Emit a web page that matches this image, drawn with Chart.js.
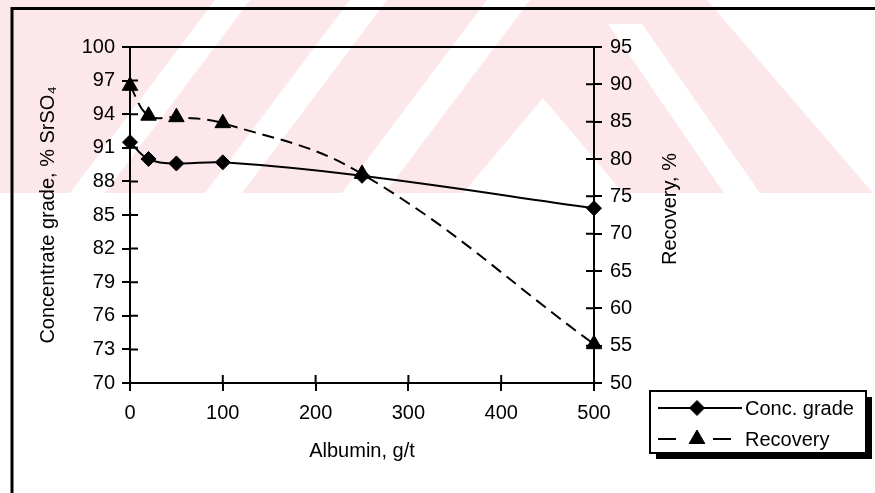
<!DOCTYPE html>
<html>
<head>
<meta charset="utf-8">
<script src="https://cdn.jsdelivr.net/npm/chart.js"></script>
<style>
  html, body { margin: 0; padding: 0; background: #fff; }
  #wrap { width: 875px; height: 493px; position: relative; }
</style>
</head>
<body>
<div id="wrap"><canvas id="albuminChart" width="875" height="493"></canvas></div>
<script>
'use strict';

// albumin dosage, g/t
let albumin = [0, 20, 50, 100, 250, 500];
// concentrate grade, % SrSO4 (left axis)
let concGrade = [91.5, 90.0, 89.6, 89.7, 88.5, 85.6];
// recovery, % (right axis)
let recovery = [89.8, 85.8, 85.6, 84.8, 78.0, 55.2];

let gradeTicks = { min: 70, max: 100, step: 3 };
let recoveryTicks = { min: 50, max: 95, step: 5 };
let albuminTicks = { min: 0, max: 500, step: 100 };

let fontFamily = "'Liberation Sans', Arial, sans-serif";

// pale pink watermark + cropped outer frame
let backdrop = {
  id: 'backdrop',
  beforeDraw(chart) {
    let ctx = chart.ctx;
    function poly(pts) {
      ctx.beginPath();
      ctx.moveTo(pts[0][0], pts[0][1]);
      for (let i = 1; i < pts.length; i++) ctx.lineTo(pts[i][0], pts[i][1]);
      ctx.closePath();
      ctx.fill();
    }
    ctx.save();
    ctx.fillStyle = '#fff';
    ctx.fillRect(0, 0, chart.width, chart.height);
    ctx.fillStyle = '#fce7eb';
    poly([[0, 0], [707, 0], [873, 193], [0, 193]]);
    ctx.fillStyle = '#fff';
    [[215, 250], [350, 387], [487, 530]].forEach(function (s) {
      poly([[s[0], 0], [s[1], 0], [s[1] - 145, 193], [s[0] - 145, 193]]);
    });
    poly([[543, 98], [623, 193], [463, 193]]);
    poly([[608, 24], [642, 24], [760, 193], [724, 193]]);

    ctx.strokeStyle = '#000';
    ctx.lineWidth = 3;
    ctx.beginPath();
    ctx.moveTo(12, 493);
    ctx.lineTo(12, 8.5);
    ctx.lineTo(875, 8.5);
    ctx.stroke();
    ctx.restore();
  }
};

// inner half of the crossing tick marks, top border of the plot
let axisBox = {
  id: 'axisBox',
  beforeDatasetsDraw(chart) {
    let ctx = chart.ctx;
    let area = chart.chartArea;
    let len = 8;
    ctx.save();
    ctx.strokeStyle = '#000';
    ctx.lineWidth = 2;
    ctx.beginPath();
    ctx.moveTo(area.left, area.top);
    ctx.lineTo(area.right, area.top);
    chart.scales.x.ticks.forEach(function (t) {
      let px = chart.scales.x.getPixelForValue(t.value);
      ctx.moveTo(px, area.bottom);
      ctx.lineTo(px, area.bottom - len);
    });
    chart.scales.y.ticks.forEach(function (t) {
      let py = chart.scales.y.getPixelForValue(t.value);
      ctx.moveTo(area.left, py);
      ctx.lineTo(area.left + len, py);
    });
    chart.scales.y1.ticks.forEach(function (t) {
      let py = chart.scales.y1.getPixelForValue(t.value);
      ctx.moveTo(area.right, py);
      ctx.lineTo(area.right - len, py);
    });
    ctx.stroke();
    ctx.restore();
  },
  afterDraw(chart) {
    let ctx = chart.ctx;
    let area = chart.chartArea;
    ctx.save();
    ctx.fillStyle = '#000';
    ctx.font = '20px ' + fontFamily;
    // right axis title reads bottom to top
    ctx.translate(area.right + 76, (area.top + area.bottom) / 2 - 6);
    ctx.rotate(-Math.PI / 2);
    ctx.textAlign = 'center';
    ctx.textBaseline = 'middle';
    ctx.fillText('Recovery, %', 0, 0);
    ctx.restore();
  }
};

// boxed legend with drop shadow, below the right axis
let boxLegend = {
  id: 'boxLegend',
  afterDraw(chart) {
    let ctx = chart.ctx;
    let bx = 650, by = 391, bw = 216, bh = 62;
    ctx.save();
    ctx.fillStyle = '#000';
    ctx.fillRect(bx + 6, by + 6, bw, bh);
    ctx.fillStyle = '#fff';
    ctx.fillRect(bx, by, bw, bh);
    ctx.strokeStyle = '#000';
    ctx.lineWidth = 2;
    ctx.strokeRect(bx, by, bw, bh);

    let rows = chart.data.datasets;
    let rowY = [by + 17, by + 48];
    rows.forEach(function (ds, i) {
      let y = rowY[i];
      ctx.strokeStyle = '#000';
      ctx.lineWidth = 2;
      // legend sample: long dashes either side of the marker
      ctx.setLineDash(ds.borderDash ? [18, 37] : []);
      ctx.beginPath();
      ctx.moveTo(bx + 8, y);
      ctx.lineTo(bx + 92, y);
      ctx.stroke();
      ctx.setLineDash([]);
      ctx.fillStyle = '#000';
      ctx.lineWidth = 1;
      Chart.helpers.drawPoint(ctx, {
        pointStyle: ds.pointStyle,
        radius: ds.pointRadius,
        borderWidth: 1
      }, bx + 47, y);
      ctx.font = '20px ' + fontFamily;
      ctx.textBaseline = 'middle';
      ctx.textAlign = 'left';
      ctx.fillText(ds.label, bx + 95, y + 1);
    });
    ctx.restore();
  }
};

function toPoints(ys) {
  return albumin.map(function (a, i) { return { x: a, y: ys[i] }; });
}

let tickFont = { family: fontFamily, size: 20 };

let config = {
  type: 'line',
  data: {
    datasets: [{
      label: 'Conc. grade',
      data: toPoints(concGrade),
      yAxisID: 'y',
      borderColor: '#000',
      backgroundColor: '#000',
      borderWidth: 2,
      pointStyle: 'rectRot',
      pointRadius: 7.5,
      pointBorderWidth: 1,
      tension: 0.4,
      clip: false
    },
    {
      label: 'Recovery',
      data: toPoints(recovery),
      yAxisID: 'y1',
      borderColor: '#000',
      backgroundColor: '#000',
      borderWidth: 2,
      borderDash: [12, 7],
      pointStyle: 'triangle',
      pointRadius: 9,
      pointBorderWidth: 1,
      tension: 0.4,
      clip: false
    }]
  },
  options: {
    responsive: false,
    animation: false,
    layout: { padding: { top: 47, left: 0, right: 0, bottom: 0 } },
    plugins: {
      legend: { display: false },
      tooltip: { enabled: false }
    },
    scales: {
      x: {
        type: 'linear',
        position: 'bottom',
        min: albuminTicks.min,
        max: albuminTicks.max,
        ticks: { stepSize: albuminTicks.step, color: '#000', font: tickFont, padding: 10, maxRotation: 0 },
        grid: { drawOnChartArea: false, tickLength: 8, color: '#000', lineWidth: 2 },
        border: { display: true, color: '#000', width: 2 },
        title: { display: true, text: 'Albumin, g/t', color: '#000', font: tickFont, padding: { top: 0, bottom: 30 } },
        afterFit(scale) { scale.height = 110; }
      },
      y: {
        position: 'left',
        min: gradeTicks.min,
        max: gradeTicks.max,
        ticks: { stepSize: gradeTicks.step, color: '#000', font: tickFont, padding: 7 },
        grid: { drawOnChartArea: false, tickLength: 8, color: '#000', lineWidth: 2 },
        border: { display: true, color: '#000', width: 2 },
        title: { display: true, text: 'Concentrate grade, % SrSO\u2084', color: '#000', font: tickFont, padding: { top: 36, bottom: 0 } },
        afterFit(scale) { scale.width = 130; }
      },
      y1: {
        position: 'right',
        min: recoveryTicks.min,
        max: recoveryTicks.max,
        ticks: { stepSize: recoveryTicks.step, color: '#000', font: tickFont, padding: 8 },
        grid: { drawOnChartArea: false, tickLength: 8, color: '#000', lineWidth: 2 },
        border: { display: true, color: '#000', width: 2 },
        afterFit(scale) { scale.width = 281; }
      }
    }
  },
  plugins: [backdrop, axisBox, boxLegend]
};

let albuminChart = new Chart(document.getElementById('albuminChart'), config);
</script>
</body>
</html>
